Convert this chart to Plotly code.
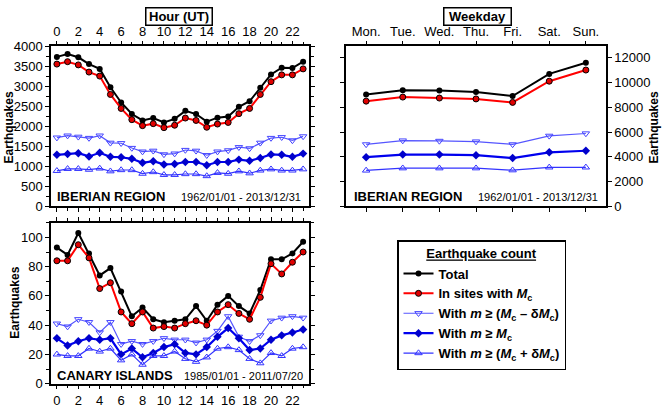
import plotly.graph_objects as go

hours = list(range(24))
hour_ticks = list(range(0, 24, 2))
weekdays = ["Mon.", "Tue.", "Wed.", "Thu.", "Fri.", "Sat.", "Sun."]

# Iberian region, hourly
ib_total = [3740, 3810, 3730, 3560, 3440, 2980, 2600, 2310, 2150, 2210, 2100, 2190,
            2390, 2310, 2120, 2220, 2250, 2490, 2630, 2970, 3300, 3470, 3460, 3620]
ib_sites = [3560, 3620, 3540, 3360, 3260, 2800, 2450, 2170, 2020, 2070, 1970, 2030,
            2210, 2150, 1980, 2060, 2100, 2320, 2450, 2800, 3120, 3290, 3290, 3440]
ib_minus = [1720, 1770, 1740, 1710, 1770, 1590, 1580, 1460, 1370, 1390, 1300, 1320,
            1410, 1390, 1280, 1370, 1400, 1480, 1450, 1590, 1710, 1730, 1650, 1750]
ib_mc = [1290, 1310, 1330, 1250, 1340, 1240, 1230, 1190, 1090, 1130, 1050, 1060,
         1110, 1110, 1030, 1110, 1110, 1170, 1140, 1210, 1300, 1290, 1240, 1320]
ib_plus = [890, 940, 940, 920, 950, 880, 910, 910, 820, 860, 790, 790,
           810, 810, 760, 840, 820, 880, 830, 900, 930, 900, 900, 930]

# Iberian region, weekday
wd_total = [9030, 9360, 9340, 9230, 8900, 10690, 11590]
wd_sites = [8490, 8820, 8740, 8670, 8390, 10100, 11000]
wd_minus = [5000, 5310, 5280, 5230, 5000, 5690, 5880]
wd_mc = [3970, 4180, 4180, 4130, 3900, 4360, 4490]
wd_plus = [2900, 3080, 3080, 3080, 2920, 3150, 3150]

# Canary Islands, hourly
ca_total = [93, 88, 103, 89, 74, 79, 63, 46, 52, 44, 42, 43,
            44, 53, 43, 54, 60, 53, 48, 64, 85, 85, 89, 97]
ca_sites = [84, 84, 95, 86, 65, 69, 49, 41, 49, 38, 39, 38,
            41, 43, 40, 49, 54, 48, 44, 59, 82, 75, 83, 90]
ca_minus = [41, 39, 44, 42, 35, 42, 27, 29, 27, 29, 31, 30,
            30, 28, 30, 36, 46, 32, 29, 33, 43, 45, 46, 45]
ca_mc = [31, 26, 29, 31, 30, 31, 20, 24, 18, 21, 25, 27,
         21, 20, 25, 32, 38, 31, 23, 24, 30, 33, 35, 37]
ca_plus = [20, 19, 19, 24, 22, 24, 16, 20, 13, 19, 19, 22,
           17, 15, 18, 24, 25, 23, 17, 14, 21, 19, 24, 25]

names = [
    "Total",
    "In sites with <i>M</i><sub>c</sub>",
    "With <i>m</i> \u2265 (<i>M</i><sub>c</sub> \u2013 \u03b4<i>M</i><sub>c</sub>)",
    "With <i>m</i> \u2265 <i>M</i><sub>c</sub>",
    "With <i>m</i> \u2265 (<i>M</i><sub>c</sub> + \u03b4<i>M</i><sub>c</sub>)",
]
styles = [
    dict(line=dict(color="black", width=2), marker=dict(symbol="circle", size=6, color="black")),
    dict(line=dict(color="#ff0000", width=2),
         marker=dict(symbol="circle", size=6, color="#e00000", line=dict(color="black", width=1))),
    dict(line=dict(color="#5555ff", width=1.2),
         marker=dict(symbol="triangle-down-open", size=6.5, color="#4444ff", line=dict(width=1))),
    dict(line=dict(color="#0000ee", width=2.2), marker=dict(symbol="diamond", size=6.5, color="#0000cc")),
    dict(line=dict(color="#3333ff", width=1.2),
         marker=dict(symbol="triangle-up-open", size=6.5, color="#3333ff", line=dict(width=1))),
]

fig = go.Figure()
panels = [
    (hours, [ib_total, ib_sites, ib_minus, ib_mc, ib_plus], "x", "y", True),
    (weekdays, [wd_total, wd_sites, wd_minus, wd_mc, wd_plus], "x2", "y2", False),
    (hours, [ca_total, ca_sites, ca_minus, ca_mc, ca_plus], "x3", "y3", False),
]
for xs, series, xa, ya, show in panels:
    for i in range(5):
        fig.add_trace(go.Scatter(x=xs, y=series[i], mode="lines+markers", name=names[i],
                                 xaxis=xa, yaxis=ya, showlegend=show, cliponaxis=False,
                                 **styles[i]))

W, H = 662, 408
def px(x0, x1):
    return [x0 / W, x1 / W]
def py(y0, y1):
    return [1 - y1 / H, 1 - y0 / H]

FONT = "Liberation Sans, Arial, sans-serif"
axis_common = dict(showline=True, linecolor="black", linewidth=1.5, mirror="allticks",
                   ticks="outside", ticklen=4, tickwidth=1, tickcolor="black",
                   showgrid=False, zeroline=False,
                   tickfont=dict(family=FONT, size=13, color="black"))

fig.update_layout(
    width=W, height=H, margin=dict(l=0, r=0, t=0, b=0),
    paper_bgcolor="white", plot_bgcolor="white",
    font=dict(family=FONT, color="black"),
    xaxis=dict(domain=px(51, 309), anchor="y", side="top", range=[-0.55, 23.55],
               tickmode="array", tickvals=hour_ticks,
               minor=dict(dtick=1, tick0=0, ticklen=3, ticks="outside", tickcolor="black"),
               **axis_common),
    yaxis=dict(domain=py(41, 207), anchor="x", range=[0, 4000], dtick=500,
               minor=dict(dtick=250, ticklen=3, ticks="outside", tickcolor="black"),
               **axis_common),
    xaxis2=dict(domain=px(346, 606), anchor="y2", side="top", range=[-0.55, 6.55],
                type="category", **axis_common),
    yaxis2=dict(domain=py(41, 207), anchor="x2", side="right", range=[0, 12900], dtick=2000,
                tickformat="d", **axis_common),
    xaxis3=dict(domain=px(51, 309), anchor="y3", side="bottom", range=[-0.55, 23.55],
                tickmode="array", tickvals=hour_ticks, ticklabelstandoff=0,
                minor=dict(dtick=1, tick0=0, ticklen=3, ticks="outside", tickcolor="black"),
                **axis_common),
    yaxis3=dict(domain=py(224, 391), anchor="x3", range=[0, 110], dtick=20,
                minor=dict(dtick=10, ticklen=3, ticks="outside", tickcolor="black"),
                **axis_common),
    legend=dict(x=397 / W, y=1 - 242 / H, xanchor="left", yanchor="top",
                bordercolor="black", borderwidth=1.5, bgcolor="white",
                font=dict(family=FONT, size=13, color="black", weight="bold"),
                title=dict(text='<span style="text-decoration:underline">Earthquake count</span>',
                           side="top center",
                           font=dict(family=FONT, size=13, color="black", weight="bold")),
                tracegroupgap=0, itemwidth=30),
)

ann = []
def a(text, x, y, size=13, bold=True, xanchor="center", yanchor="middle", angle=0, **kw):
    ann.append(dict(text=text, x=x / W, y=1 - y / H, xref="paper", yref="paper",
                    xanchor=xanchor, yanchor=yanchor, showarrow=False, textangle=angle,
                    font=dict(family=FONT, size=size, color="black",
                              weight="bold" if bold else "normal"), **kw))

a("Hour (UT)", 178.5, 10, bordercolor="black", borderwidth=1.5, borderpad=1,
  width=63, height=14, bgcolor="white")
a("Weekday", 477.5, 10, bordercolor="black", borderwidth=1.5, borderpad=1,
  width=64, height=14, bgcolor="white")
a("Earthquakes", 9, 125, size=12, angle=-90)
a("Earthquakes", 654, 125, size=12, angle=-90)
a("Earthquakes", 15, 307, size=12, angle=-90)
a("IBERIAN REGION", 55, 197, xanchor="left")
a("1962/01/01 - 2013/12/31", 303, 197, size=11, bold=False, xanchor="right")
a("IBERIAN REGION", 352, 197, xanchor="left")
a("1962/01/01 - 2013/12/31", 600, 197, size=11, bold=False, xanchor="right")
a("CANARY ISLANDS", 55, 383, xanchor="left")
a("1985/01/01 - 2011/07/20", 305, 383, size=11, bold=False, xanchor="right")
fig.update_layout(annotations=ann)

fig.write_html("out.html", config={"displayModeBar": False},
               post_script="document.body.style.margin='0';")
